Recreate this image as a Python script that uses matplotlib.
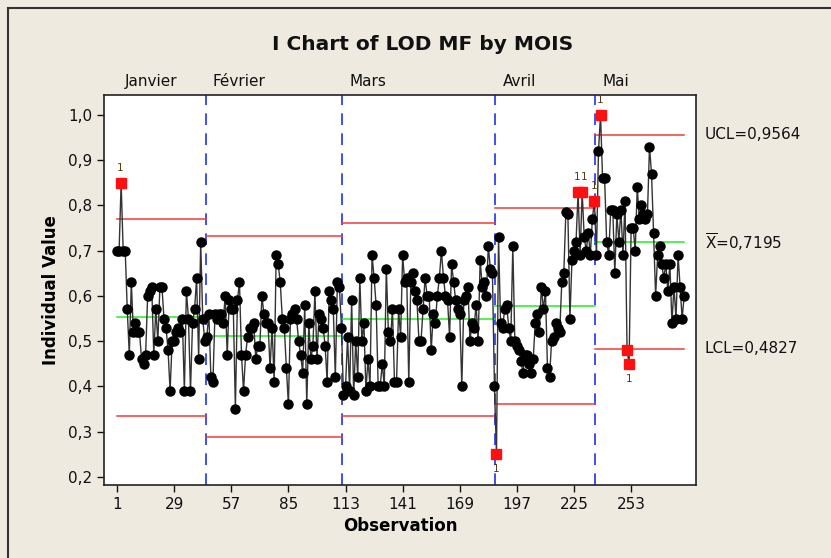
import matplotlib
matplotlib.use("Agg")
import matplotlib.pyplot as plt
from matplotlib.lines import Line2D
import numpy as np

# Values, by month (phase)
months = ["Janvier", "Février", "Mars", "Avril", "Mai"]

janvier = [0.70, 0.70, 0.85, 0.70, 0.70, 0.57, 0.47, 0.63, 0.52, 0.54,
           0.52, 0.52, 0.46, 0.45, 0.47, 0.60, 0.61, 0.62, 0.47, 0.57,
           0.50, 0.62, 0.62, 0.55, 0.53, 0.48, 0.39, 0.50, 0.50, 0.52,
           0.53, 0.52, 0.55, 0.39, 0.61, 0.55, 0.39, 0.54, 0.57, 0.64,
           0.46, 0.72, 0.55, 0.50]
fevrier = [0.51, 0.56, 0.42, 0.41, 0.56, 0.55, 0.56, 0.56, 0.54, 0.60,
           0.47, 0.59, 0.57, 0.57, 0.35, 0.59, 0.63, 0.47, 0.39, 0.47,
           0.51, 0.53, 0.53, 0.54, 0.46, 0.49, 0.49, 0.60, 0.56, 0.54,
           0.54, 0.44, 0.53, 0.41, 0.69, 0.67, 0.63, 0.55, 0.53, 0.44,
           0.36, 0.55, 0.56, 0.57, 0.55, 0.50, 0.47, 0.43, 0.58, 0.36,
           0.54, 0.46, 0.49, 0.61, 0.46, 0.56, 0.55, 0.53, 0.49, 0.41,
           0.61, 0.59, 0.57, 0.42, 0.63, 0.62, 0.53]
mars = [0.38, 0.40, 0.51, 0.39, 0.59, 0.38, 0.50, 0.42, 0.64, 0.50,
        0.54, 0.39, 0.46, 0.40, 0.69, 0.64, 0.58, 0.40, 0.40, 0.45,
        0.40, 0.66, 0.52, 0.50, 0.57, 0.41, 0.41, 0.57, 0.51, 0.69,
        0.63, 0.64, 0.41, 0.63, 0.65, 0.61, 0.59, 0.50, 0.50, 0.57,
        0.64, 0.60, 0.60, 0.48, 0.56, 0.54, 0.60, 0.64, 0.70, 0.64,
        0.60, 0.59, 0.51, 0.67, 0.63, 0.59, 0.57, 0.56, 0.40, 0.59,
        0.60, 0.62, 0.50, 0.54, 0.53, 0.58, 0.50, 0.68, 0.62, 0.63,
        0.60, 0.71, 0.66, 0.65, 0.40]
avril = [0.25, 0.73, 0.54, 0.53, 0.57, 0.58, 0.53, 0.50, 0.71, 0.50,
         0.49, 0.48, 0.455, 0.43, 0.47, 0.47, 0.45, 0.43, 0.46, 0.54,
         0.56, 0.52, 0.62, 0.57, 0.61, 0.44, 0.42, 0.50, 0.51, 0.54,
         0.53, 0.52, 0.63, 0.65, 0.785, 0.78, 0.55, 0.68, 0.70, 0.72,
         0.83, 0.69, 0.83, 0.73, 0.70, 0.74, 0.69, 0.77, 0.81]
mai = [0.69, 0.92, 1.00, 0.86, 0.86, 0.72, 0.69, 0.79, 0.79, 0.65,
       0.78, 0.72, 0.79, 0.69, 0.81, 0.480, 0.45, 0.75, 0.75, 0.70,
       0.84, 0.77, 0.80, 0.78, 0.77, 0.78, 0.93, 0.87, 0.74, 0.60,
       0.69, 0.71, 0.67, 0.64, 0.67, 0.61, 0.67, 0.54, 0.62, 0.55,
       0.69, 0.62, 0.55, 0.60]

# Control limits per month
ucl = [0.770, 0.733, 0.762, 0.794, 0.9564]
center = [0.5525, 0.511, 0.5485, 0.5775, 0.7195]
lcl = [0.335, 0.289, 0.335, 0.361, 0.4827]

xticks = [1, 29, 57, 85, 113, 141, 169, 197, 225, 253]
yticks = [0.2, 0.3, 0.4, 0.5, 0.6, 0.7, 0.8, 0.9, 1.0]

phases = [janvier, fevrier, mars, avril, mai]
values = np.concatenate(phases)
n = len(values)
obs = np.arange(1, n + 1)
sizes = [len(p) for p in phases]
starts = np.cumsum([0] + sizes[:-1]) + 1
ends = starts + np.array(sizes) - 1

fig = plt.figure(figsize=(8.31, 5.58), dpi=100, facecolor="#EEEAE0")
ax = fig.add_axes([104 / 831, 1 - 485 / 558, 592 / 831, 390 / 558])
ax.set_facecolor("white")

# Outer frame (left and top)
fig.add_artist(Line2D([8 / 831, 8 / 831], [0, 1 - 8 / 558], transform=fig.transFigure,
                      color="#333333", lw=1.5))
fig.add_artist(Line2D([8 / 831, 1], [1 - 8 / 558, 1 - 8 / 558], transform=fig.transFigure,
                      color="#333333", lw=1.5))

# Limits and phase boundaries
out = np.zeros(n, dtype=bool)
for i, (s, e) in enumerate(zip(starts, ends)):
    x0 = max(s - 0.5, 1)
    x1 = min(e + 0.5, n)
    ax.plot([x0, x1], [ucl[i], ucl[i]], color="#F03C3C", lw=1.1, zorder=2)
    ax.plot([x0, x1], [lcl[i], lcl[i]], color="#F03C3C", lw=1.1, zorder=2)
    ax.plot([x0, x1], [center[i], center[i]], color="#22EE22", lw=1.1, zorder=2)
    seg = values[s - 1:e]
    out[s - 1:e] = (seg > ucl[i]) | (seg < lcl[i])
    if i > 0:
        ax.axvline(s - 0.5, color="#1E32F0", lw=1.2, ls=(0, (7, 5)), zorder=1)
    ax.text(s + 3 if i else s + 4, 1.073, months[i], ha="left", va="center",
            fontsize=11, color="#111111")

# Data
ax.plot(obs, values, color="#333333", lw=1.0, zorder=3)
ax.plot(obs[~out], values[~out], "o", color="black", ms=6.5, zorder=4)
ax.plot(obs[out], values[out], "s", color="#FF1010", ms=7, mec="#FF1010", zorder=5)

# "1" test labels; spread labels of neighbouring points so they sit side by side
prev_x = None
for x, v in zip(obs[out], values[out]):
    phase = np.searchsorted(ends, x)
    lx = x - 0.3
    if prev_x is not None and lx - prev_x < 3.2:
        lx = prev_x + 3.2
    if v > ucl[phase]:
        ax.text(lx, v + 0.022, "1", ha="center", va="bottom", fontsize=7.5, color="#5A3A10")
        prev_x = lx
    else:
        ax.text(x, v - 0.022, "1", ha="center", va="top", fontsize=7.5, color="#5A3A10")
        prev_x = None

# Right-hand labels for last phase
ytr = ax.get_yaxis_transform()
ax.text(1.015, ucl[-1], "UCL=0,9564", transform=ytr,
        ha="left", va="center", fontsize=11, color="#111111")
ax.text(1.015, center[-1], r"$\overline{\mathrm{X}}$=0,7195", transform=ytr,
        ha="left", va="center", fontsize=11, color="#111111")
ax.text(1.015, lcl[-1], "LCL=0,4827", transform=ytr,
        ha="left", va="center", fontsize=11, color="#111111")

ax.set_xlim(-5.4, 284.8)
ax.set_ylim(0.182, 1.044)
ax.set_xticks(xticks)
ax.set_yticks(yticks)
ax.set_yticklabels([f"{t:.1f}".replace(".", ",") for t in yticks])
ax.tick_params(direction="out", length=5, width=1, labelsize=11, colors="#111111",
               top=False, right=False)
for sp in ax.spines.values():
    sp.set_color("#222222")
    sp.set_linewidth(1.2)

ax.set_xlabel("Observation", fontsize=12, fontweight="bold", labelpad=4)
ax.set_ylabel("Individual Value", fontsize=12, fontweight="bold", labelpad=6)
fig.text(423 / 831, 1 - 45 / 558, "I Chart of LOD MF by MOIS", ha="center", va="center",
         fontsize=14.5, fontweight="bold", color="#111111")

fig.savefig("out.png", dpi=100, facecolor=fig.get_facecolor())
